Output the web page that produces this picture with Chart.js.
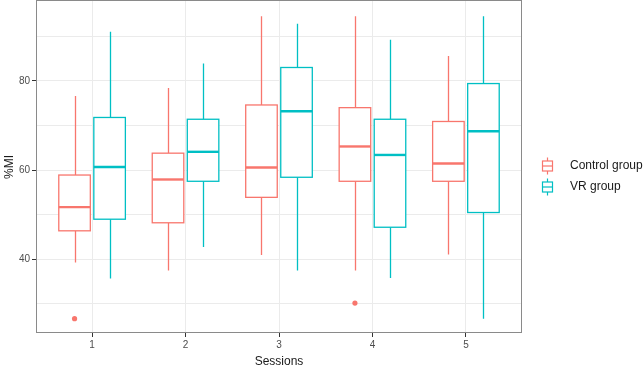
<!DOCTYPE html>
<html>
<head>
<meta charset="utf-8">
<script src="https://cdn.jsdelivr.net/npm/chart.js@4"></script>
<style>
  html, body { margin: 0; background: #fff; overflow: hidden; }
  #wrap { width: 643px; height: 367px; position: relative; }
</style>
</head>
<body>
<div id="wrap"><canvas id="chart"></canvas></div>
<script>
const sessions = [1, 2, 3, 4, 5];
const groups = ["Control group", "VR group"];
const groupColors = ["#F8766D", "#00BFC4"];

// box stats (lower whisker, Q1, median, Q3, upper whisker)
const controlLow = [39.3, 37.5, 41.0, 37.5, 41.1];
const controlQ1 = [46.4, 48.2, 53.9, 57.5, 57.5];
const controlMedian = [51.7, 57.9, 60.6, 65.3, 61.5];
const controlQ3 = [58.9, 63.8, 74.6, 74.0, 70.9];
const controlHigh = [76.6, 78.4, 94.5, 94.5, 85.6];
const controlOutliers = [{ session: 1, value: 26.7 }, { session: 4, value: 30.2 }];

const vrLow = [35.7, 42.8, 37.5, 35.8, 26.7];
const vrQ1 = [49.0, 57.5, 58.4, 47.2, 50.5];
const vrMedian = [60.7, 64.1, 73.2, 63.4, 68.7];
const vrQ3 = [71.8, 71.4, 83.0, 71.4, 79.4];
const vrHigh = [91.0, 83.9, 92.8, 89.2, 94.5];
const vrOutliers = [];

const yTicks = [30, 40, 50, 60, 70, 80, 90];
const yLabels = [40, 60, 80];

const stats = [
  { low: controlLow, q1: controlQ1, med: controlMedian, q3: controlQ3, high: controlHigh },
  { low: vrLow, q1: vrQ1, med: vrMedian, q3: vrQ3, high: vrHigh },
];
const dodge = 0.1875;
const halfBox = 0.16875;

const boxPlugin = {
  id: "boxes",
  beforeDatasetsDraw(chart) {
    const { ctx, chartArea, scales: { x, y } } = chart;
    ctx.save();
    ctx.beginPath();
    ctx.rect(chartArea.left, chartArea.top, chartArea.width, chartArea.height);
    ctx.clip();
    stats.forEach((s, g) => {
      const off = g === 0 ? -dodge : dodge;
      ctx.strokeStyle = groupColors[g];
      sessions.forEach((sess, i) => {
        const cx = Math.round(x.getPixelForValue(sess + off)) + 0.5;
        const x0 = x.getPixelForValue(sess + off - halfBox);
        const x1 = x.getPixelForValue(sess + off + halfBox);
        const pLow = y.getPixelForValue(s.low[i]);
        const pQ1 = y.getPixelForValue(s.q1[i]);
        const pMed = y.getPixelForValue(s.med[i]);
        const pQ3 = y.getPixelForValue(s.q3[i]);
        const pHigh = y.getPixelForValue(s.high[i]);
        ctx.lineWidth = 1.3;
        ctx.beginPath();
        ctx.moveTo(cx, pHigh); ctx.lineTo(cx, pQ3);
        ctx.moveTo(cx, pQ1); ctx.lineTo(cx, pLow);
        ctx.stroke();
        ctx.fillStyle = "#fff";
        ctx.fillRect(x0, pQ3, x1 - x0, pQ1 - pQ3);
        ctx.strokeRect(x0, pQ3, x1 - x0, pQ1 - pQ3);
        ctx.lineWidth = 2.4;
        ctx.beginPath();
        ctx.moveTo(x0, pMed); ctx.lineTo(x1, pMed);
        ctx.stroke();
      });
    });
    ctx.restore();
  },
  afterDraw(chart) {
    const { ctx, chartArea } = chart;
    ctx.save();
    // panel border
    ctx.strokeStyle = "#8a8a8a";
    ctx.lineWidth = 1;
    ctx.strokeRect(chartArea.left + 0.5, chartArea.top - 0.5, chartArea.width - 1, chartArea.height);
    // legend
    const kx = chartArea.right + 25;
    groups.forEach((name, g) => {
      const ky = chartArea.top + 165 + g * 21;
      ctx.strokeStyle = groupColors[g];
      ctx.lineWidth = 1.2;
      ctx.beginPath();
      ctx.moveTo(kx + 0.5, ky - 8.5); ctx.lineTo(kx + 0.5, ky - 5);
      ctx.moveTo(kx + 0.5, ky + 5); ctx.lineTo(kx + 0.5, ky + 8.5);
      ctx.stroke();
      ctx.strokeRect(kx - 4.5, ky - 5, 10, 10);
      ctx.beginPath();
      ctx.moveTo(kx - 4.5, ky); ctx.lineTo(kx + 5.5, ky);
      ctx.stroke();
      ctx.fillStyle = "#1a1a1a";
      ctx.font = "12px 'Liberation Sans', Arial, sans-serif";
      ctx.textBaseline = "middle";
      ctx.textAlign = "left";
      ctx.fillText(name, kx + 23, ky);
    });
    ctx.restore();
  },
};

new Chart(document.getElementById("chart"), {
  type: "scatter",
  data: {
    datasets: [
      {
        label: groups[0],
        data: controlOutliers.map((o) => ({ x: o.session - dodge, y: o.value })),
        backgroundColor: groupColors[0],
        borderWidth: 0,
        pointRadius: 2.6,
      },
      {
        label: groups[1],
        data: vrOutliers.map((o) => ({ x: o.session + dodge, y: o.value })),
        backgroundColor: groupColors[1],
        borderWidth: 0,
        pointRadius: 2.6,
      },
    ],
  },
  options: {
    responsive: true,
    maintainAspectRatio: false,
    animation: false,
    layout: { autoPadding: false, padding: { top: 1, right: 121, left: 0, bottom: 0 } },
    plugins: { legend: { display: false }, tooltip: { enabled: false } },
    scales: {
      x: {
        type: "linear",
        min: 0.4,
        max: 5.6,
        afterBuildTicks: (scale) => { scale.ticks = sessions.map((v) => ({ value: v })); },
        afterFit: (scale) => {
          scale.height = 34;
          scale.paddingLeft = 0;
          scale.paddingRight = 0;
        },
        ticks: {
          color: "#4d4d4d",
          padding: 2,
          font: { family: "'Liberation Sans', Arial, sans-serif", size: 10 },
          callback: (v) => String(v),
        },
        grid: { color: "#ebebeb", lineWidth: 1, tickColor: "#333", tickLength: 4 },
        border: { display: false },
        title: {
          display: true,
          text: "Sessions",
          color: "#1a1a1a",
          font: { family: "'Liberation Sans', Arial, sans-serif", size: 12, lineHeight: 1 },
          padding: { top: 0, bottom: -1 },
        },
      },
      y: {
        min: 23.5,
        max: 97.9,
        afterBuildTicks: (scale) => { scale.ticks = yTicks.map((v) => ({ value: v })); },
        afterFit: (scale) => {
          scale.width = 36;
          scale.paddingTop = 0;
          scale.paddingBottom = 0;
        },
        ticks: {
          color: "#4d4d4d",
          padding: 2,
          font: { family: "'Liberation Sans', Arial, sans-serif", size: 10 },
          callback: (v) => (yLabels.includes(v) ? String(v) : ""),
        },
        grid: {
          color: "#ebebeb",
          lineWidth: 1,
          tickLength: 4,
          tickColor: (c) => (c.tick && yLabels.includes(c.tick.value) ? "#333" : "rgba(0,0,0,0)"),
        },
        border: { display: false },
        title: {
          display: true,
          text: "%MI",
          color: "#1a1a1a",
          font: { family: "'Liberation Sans', Arial, sans-serif", size: 12, lineHeight: 1 },
          padding: { top: 4, bottom: 0 },
        },
      },
    },
  },
  plugins: [boxPlugin],
});
</script>
</body>
</html>
